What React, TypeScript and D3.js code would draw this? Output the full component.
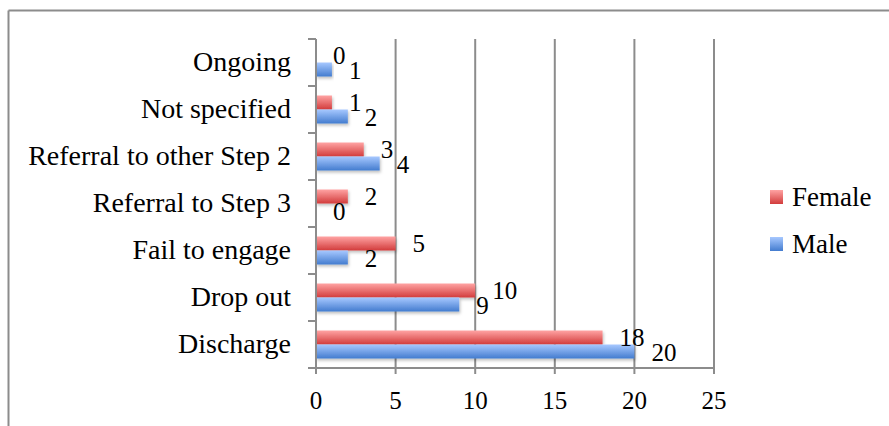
import * as d3 from "d3";

const categories = [
  "Ongoing",
  "Not specified",
  "Referral to other Step 2",
  "Referral to Step 3",
  "Fail to engage",
  "Drop out",
  "Discharge",
];
const female = [0, 1, 3, 2, 5, 10, 18];
const male = [1, 2, 4, 0, 2, 9, 20];
const xTicks = [0, 5, 10, 15, 20, 25];

const W = 889;
const H = 426;
const left = 316;
const right = 714;
const top = 39;
const bottom = 368;
const barH = 14;
const font = "'Liberation Serif', 'Times New Roman', serif";
const catSize = 28;
const legendSize = 27;
const numSize = 25;
const gridColor = "#8c8c8c";

const App = () => {
  const x = d3.scaleLinear().domain([0, 25]).range([left, right]);
  const y = d3.scaleBand<string>().domain(categories).range([top, bottom]);
  const bw = y.bandwidth();

  return (
    <svg
      width={W}
      height={H}
      style={{ position: "absolute", left: 0, top: 0, background: "#fff" }}
    >
      <defs>
        <linearGradient id="gF" x1="0" y1="0" x2="0" y2="1">
          <stop offset="0%" stopColor="#ffa3a3" />
          <stop offset="100%" stopColor="#d23c3c" />
        </linearGradient>
        <linearGradient id="gM" x1="0" y1="0" x2="0" y2="1">
          <stop offset="0%" stopColor="#a7c8ff" />
          <stop offset="100%" stopColor="#437ccf" />
        </linearGradient>
        <filter id="shadow" x="-10%" y="-30%" width="120%" height="180%">
          <feDropShadow dx="1" dy="2" stdDeviation="1.5" floodColor="#000" floodOpacity="0.25" />
        </filter>
      </defs>

      {/* outer frame */}
      <line x1={8.5} y1={10.5} x2={W} y2={10.5} stroke={gridColor} strokeWidth={2} />
      <line x1={8.5} y1={10.5} x2={8.5} y2={H} stroke={gridColor} strokeWidth={2} />

      {/* grid */}
      {xTicks.slice(1).map((t) => (
        <line key={t} x1={x(t)} x2={x(t)} y1={top} y2={bottom} stroke={gridColor} strokeWidth={2} />
      ))}

      {/* bars */}
      {categories.map((c, i) => {
        const y0 = (y(c) as number) + bw / 2 - barH;
        return (
          <g key={c} filter="url(#shadow)">
            {female[i] > 0 && (
              <rect x={x(0)} y={y0} width={x(female[i]) - x(0)} height={barH} fill="url(#gF)" />
            )}
            {male[i] > 0 && (
              <rect x={x(0)} y={y0 + barH} width={x(male[i]) - x(0)} height={barH} fill="url(#gM)" />
            )}
          </g>
        );
      })}

      {/* axes */}
      <line x1={left} x2={left} y1={top} y2={bottom + 6} stroke={gridColor} strokeWidth={2} />
      <line x1={left - 8} x2={right} y1={bottom} y2={bottom} stroke={gridColor} strokeWidth={2} />
      {xTicks.map((t) => (
        <g key={t}>
          <line x1={x(t)} x2={x(t)} y1={bottom} y2={bottom + 6} stroke={gridColor} strokeWidth={2} />
          <text x={x(t)} y={400} textAnchor="middle" dominantBaseline="central" fontFamily={font} fontSize={numSize}>
            {t}
          </text>
        </g>
      ))}
      {categories.map((c) => (
        <g key={c}>
          <line x1={left - 8} x2={left} y1={y(c) as number} y2={y(c) as number} stroke={gridColor} strokeWidth={2} />
          <text
            x={291}
            y={(y(c) as number) + bw / 2 - 1.5}
            textAnchor="end"
            dominantBaseline="central"
            fontFamily={font}
            fontSize={catSize}
          >
            {c}
          </text>
        </g>
      ))}

      {/* data labels */}
      {categories.map((c, i) => {
        const yc = (y(c) as number) + bw / 2;
        return (
          <g key={c} fontFamily={font} fontSize={numSize}>
            <text x={x(female[i]) + 17} y={yc - barH / 2} dominantBaseline="central">
              {female[i]}
            </text>
            <text x={x(male[i]) + 17} y={yc + barH / 2 + 1} dominantBaseline="central">
              {male[i]}
            </text>
          </g>
        );
      })}

      {/* legend */}
      {[
        { name: "Female", fill: "url(#gF)", yc: 197 },
        { name: "Male", fill: "url(#gM)", yc: 244 },
      ].map((d) => (
        <g key={d.name}>
          <rect x={770} y={d.yc - 7} width={13} height={14} fill={d.fill} />
          <text x={792} y={d.yc} dominantBaseline="central" fontFamily={font} fontSize={legendSize}>
            {d.name}
          </text>
        </g>
      ))}
    </svg>
  );
};

export default App;
